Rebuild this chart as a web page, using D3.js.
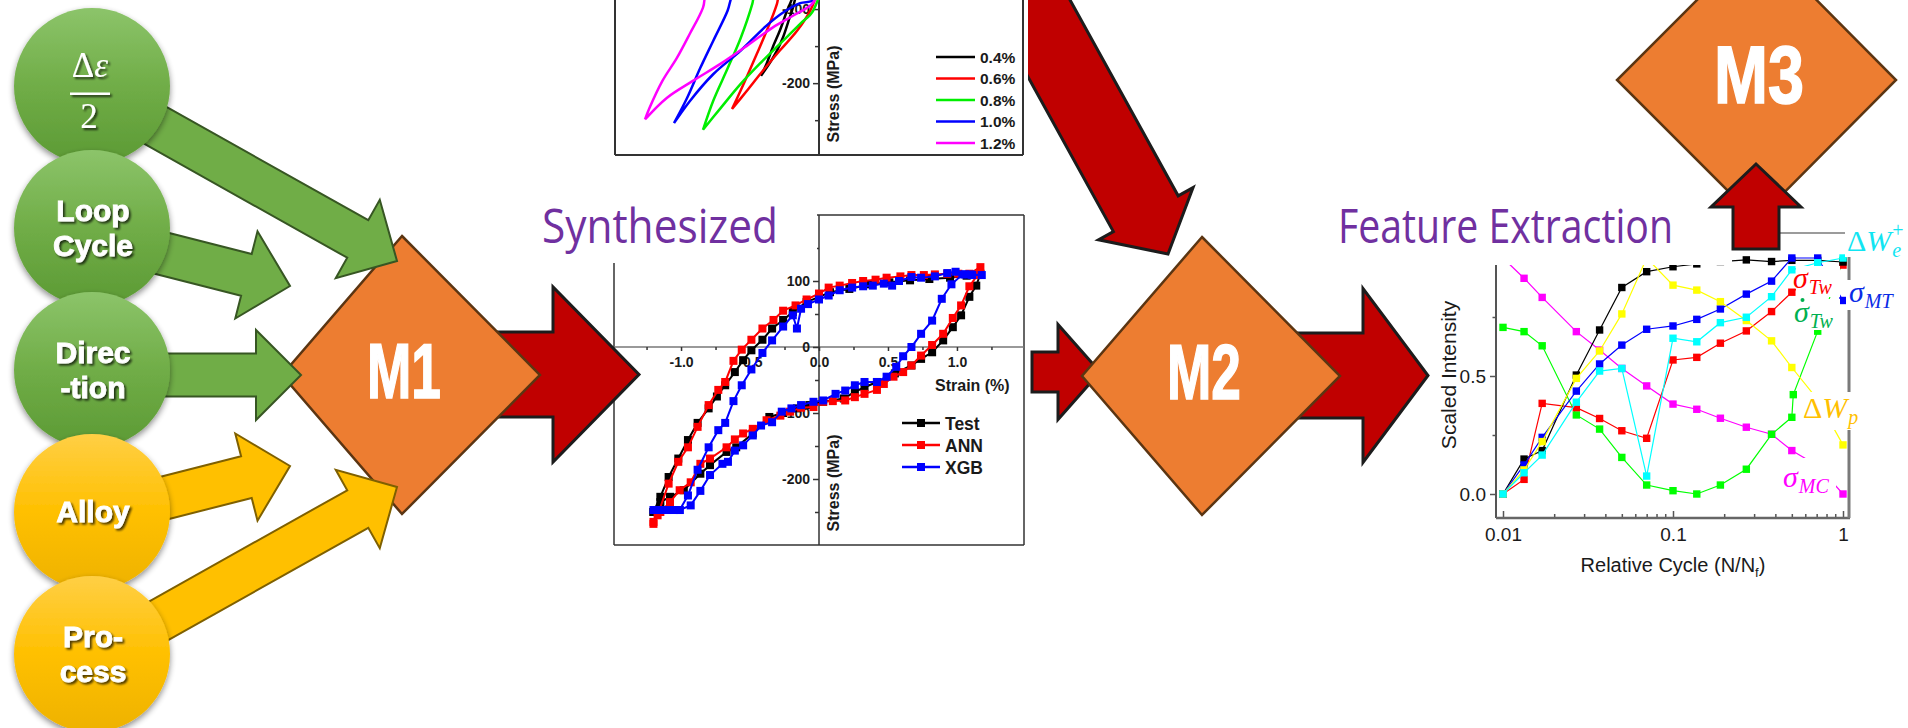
<!DOCTYPE html>
<html>
<head>
<meta charset="UTF-8">
<title>Fatigue loop pipeline</title>
<script src="https://cdn.jsdelivr.net/npm/d3@7"></script>
<style>
  body { margin: 0; background: #fff; }
  svg { display: block; }
</style>
</head>
<body>
<svg id="fig" width="1908" height="728"></svg>
<script>
  // ---------- data ----------
  // measured hysteresis loops, [strain %, stress MPa]
  const loopLevels = ['0.4%', '0.6%', '0.8%', '1.0%', '1.2%']
  const loop04 = [[-0.40,-190],[-0.36,-173],[-0.32,-152],[-0.27,-129],[-0.22,-102],[-0.19,-88],[-0.15,-60],
    [-0.14,-60],[-0.18,-98],[-0.21,-116],[-0.25,-139],[-0.29,-156],[-0.34,-173],[-0.40,-190]]
  const loop06 = [[-0.60,-235],[-0.52,-201],[-0.43,-161],[-0.36,-129],[-0.29,-93],[-0.25,-60],
    [0.0,-60],[-0.03,-88],[-0.06,-102],[-0.15,-129],[-0.27,-156],[-0.39,-184],[-0.50,-211],[-0.60,-235]]
  const loop08 = [[-0.80,-263],[-0.73,-224],[-0.63,-180],[-0.54,-139],[-0.46,-93],[-0.42,-60],
    [0.0,-60],[-0.04,-102],[-0.13,-120],[-0.27,-147],[-0.41,-174],[-0.54,-201],[-0.68,-234],[-0.80,-263]]
  const loop10 = [[-1.00,-254],[-0.91,-220],[-0.82,-180],[-0.73,-143],[-0.63,-102],[-0.61,-88],[-0.56,-60],
    [0.0,-60],[-0.04,-88],[-0.13,-92],[-0.25,-105],[-0.36,-122],[-0.54,-156],[-0.73,-188],[-0.89,-224],[-1.00,-254]]
  const loop12 = [[-1.20,-249],[-1.17,-234],[-1.08,-197],[-0.98,-166],[-0.89,-133],[-0.80,-98],[-0.75,-60],
    [0.0,-60],[-0.04,-91],[-0.18,-109],[-0.32,-125],[-0.50,-150],[-0.68,-174],[-0.87,-197],[-1.05,-220],[-1.20,-249]]

  // synthesized loop vs test, [strain %, stress MPa]
  const modelNames = ['Test', 'ANN', 'XGB']
  const testLoop = [[-1.20,-250],[-1.15,-227],[-1.09,-197],[-1.02,-169],[-0.95,-141],[-0.88,-115],[-0.80,-93],
    [-0.74,-75],[-0.68,-58],[-0.61,-38],[-0.55,-20],[-0.49,-5],[-0.41,11],[-0.34,28],[-0.26,41],[-0.19,53],
    [-0.09,68],[0.0,76],[0.08,83],[0.22,88],[0.37,95],[0.51,98],[0.66,101],[0.80,103],[0.95,105],[1.07,108],
    [1.17,111],[1.14,93],[1.09,76],[1.03,48],[0.97,30],[0.90,10],[0.82,-8],[0.74,-18],[0.67,-28],[0.55,-40],
    [0.42,-53],[0.33,-61],[0.26,-68],[0.18,-78],[0.03,-83],[-0.07,-88],[-0.16,-93],[-0.26,-100],[-0.36,-106],
    [-0.48,-131],[-0.60,-152],[-0.67,-159],[-0.79,-179],[-0.86,-192],[-0.98,-217],[-1.08,-227],[-1.15,-235],[-1.20,-250]]
  const annLoop = [[-1.20,-268],[-1.17,-255],[-1.09,-207],[-1.02,-174],[-0.95,-152],[-0.88,-121],[-0.80,-88],
    [-0.73,-65],[-0.68,-53],[-0.62,-21],[-0.56,-4],[-0.49,11],[-0.41,28],[-0.33,41],[-0.26,55],[-0.17,63],
    [-0.09,72],[0.0,81],[0.07,90],[0.15,93],[0.24,97],[0.32,100],[0.41,102],[0.49,105],[0.59,107],[0.67,109],
    [0.76,109],[0.84,110],[0.93,111],[1.01,111],[1.09,111],[1.17,121],[1.15,109],[1.09,92],[1.03,63],[0.97,44],
    [0.90,20],[0.82,3],[0.74,-13],[0.67,-28],[0.61,-38],[0.54,-45],[0.47,-56],[0.42,-65],[0.33,-71],[0.26,-76],
    [0.19,-81],[0.10,-82],[0.03,-83],[-0.04,-91],[-0.13,-92],[-0.21,-98],[-0.28,-104],[-0.38,-111],[-0.48,-124],
    [-0.55,-131],[-0.61,-140],[-0.67,-152],[-0.79,-169],[-0.86,-177],[-0.93,-205],[-1.01,-217],[-1.08,-235],
    [-1.15,-250],[-1.20,-265]]
  const xgbLoop = [[-1.20,-247],[-1.15,-247],[-1.10,-247],[-1.05,-247],[-1.01,-247],[-0.95,-225],[-0.88,-186],
    [-0.80,-152],[-0.73,-126],[-0.68,-115],[-0.62,-82],[-0.56,-58],[-0.49,-34],[-0.41,-9],[-0.34,10],[-0.26,31],
    [-0.19,48],[-0.16,28],[-0.13,58],[-0.08,65],[0.0,72],[0.07,78],[0.15,86],[0.24,90],[0.32,92],[0.39,93],
    [0.47,96],[0.53,93],[0.58,100],[0.67,106],[0.74,105],[0.84,107],[0.93,112],[0.99,114],[1.06,110],[1.11,109],
    [1.18,109],[1.10,110],[1.04,110],[0.96,95],[0.89,73],[0.82,40],[0.74,20],[0.67,0],[0.61,-14],[0.56,-30],
    [0.49,-45],[0.42,-53],[0.33,-53],[0.26,-58],[0.19,-66],[0.12,-71],[0.03,-81],[-0.04,-83],[-0.13,-88],
    [-0.20,-93],[-0.27,-98],[-0.34,-114],[-0.42,-119],[-0.48,-134],[-0.55,-149],[-0.61,-157],[-0.66,-174],
    [-0.70,-177],[-0.79,-194],[-0.86,-218],[-0.93,-240],[-1.01,-247]]

  // extracted features vs relative cycle N/Nf
  const relCycle = [0.01, 0.0133, 0.017, 0.027, 0.037, 0.05, 0.07, 0.1, 0.138, 0.19, 0.27, 0.38, 0.5, 0.71, 1.0]
  const relCycleGreen = [0.01, 0.0133, 0.017, 0.027, 0.037, 0.05, 0.07, 0.1, 0.138, 0.19, 0.27, 0.38, 0.5, 0.51, 0.71, 1.0]
  const featBlack = [0, 0.148, 0.184, 0.504, 0.695, 0.875, 0.942, 0.963, 0.975, 0.985, 0.992, 0.985, 0.99, 0.99, 0.983]
  const sigmaTw = [0, 0.062, 0.384, 0.366, 0.32, 0.268, 0.236, 0.568, 0.579, 0.639, 0.691, 0.773, 0.855, 0.93, 0.97]
  const sigmaMT = [0, 0.123, 0.24, 0.436, 0.551, 0.631, 0.698, 0.712, 0.74, 0.784, 0.847, 0.902, 1.0, 1.0, 0.82]
  const deltaWe = [0, 0.09, 0.165, 0.389, 0.521, 0.532, 0.076, 0.66, 0.645, 0.726, 0.749, 0.836, 0.95, 0.98, 1.0]
  const deltaWp = [0, 0.102, 0.222, 0.49, 0.606, 0.763, 1.0, 0.885, 0.864, 0.815, 0.735, 0.649, 0.536, 0.4, 0.208]
  const sigmaMC = [1.0, 0.914, 0.833, 0.688, 0.61, 0.532, 0.458, 0.381, 0.359, 0.321, 0.283, 0.253, 0.184, 0.12, 0.0]
  const sigmaDotTw = [0.706, 0.688, 0.628, 0.335, 0.275, 0.155, 0.038, 0.014, 0.0, 0.038, 0.105, 0.253, 0.325, 0.421, 0.69, 0.99]

  // input nodes and tick values
  const inputNames = [['Δε', '2'], ['Loop', 'Cycle'], ['Direc', '-tion'], ['Alloy'], ['Pro-', 'cess']]
  const stressTicks = [-200, -100, 0, 100]
  const stressMinor = [-250, -150, -50, 50, 150]
  const strainTicks = [-1, -0.5, 0, 0.5, 1]
  const strainMinor = [-1.25, -0.75, -0.25, 0.25, 0.75, 1.25]
  const intensityTicks = [0, 0.5]
  const cycleTicks = [0.01, 0.1, 1]

  // ---------- setup ----------
  const svg = d3.select('#fig')
  const defs = svg.append('defs')
  svg.append('rect').attr('width', 1908).attr('height', 728).attr('fill', '#fff')

  function vGrad(id, stops) {
    const g = defs.append('linearGradient').attr('id', id)
      .attr('x1', 0).attr('y1', 0).attr('x2', 0).attr('y2', 1)
    stops.forEach(([o, c]) => g.append('stop').attr('offset', o).attr('stop-color', c))
  }
  vGrad('gGreen', [[0, '#8cc46a'], [0.5, '#70ad47'], [1, '#5c9a34']])
  vGrad('gYellow', [[0, '#ffcf45'], [0.5, '#ffc000'], [1, '#eeb200']])

  const sh = defs.append('filter').attr('id', 'soft').attr('x', '-20%').attr('y', '-20%')
    .attr('width', '140%').attr('height', '150%')
  sh.append('feGaussianBlur').attr('in', 'SourceAlpha').attr('stdDeviation', 3)
  sh.append('feOffset').attr('dy', 3).attr('result', 'o')
  sh.append('feComponentTransfer').append('feFuncA').attr('type', 'linear').attr('slope', 0.45)
  const shm = sh.append('feMerge')
  shm.append('feMergeNode')
  shm.append('feMergeNode').attr('in', 'SourceGraphic')

  const ts = defs.append('filter').attr('id', 'txtShadow').attr('x', '-10%').attr('y', '-10%')
    .attr('width', '130%').attr('height', '140%')
  ts.append('feGaussianBlur').attr('in', 'SourceAlpha').attr('stdDeviation', 0.9)
  ts.append('feOffset').attr('dx', 1.6).attr('dy', 2)
  ts.append('feComponentTransfer').append('feFuncA').attr('type', 'linear').attr('slope', 0.7)
  const tsm = ts.append('feMerge')
  tsm.append('feMergeNode')
  tsm.append('feMergeNode').attr('in', 'SourceGraphic')

  // block arrow from tail to tip
  function blockArrow(tail, tip, shaftW, headW, headL, fill, stroke, sw) {
    const dx = tip[0] - tail[0], dy = tip[1] - tail[1], L = Math.hypot(dx, dy)
    const ux = dx / L, uy = dy / L, nx = -uy, ny = ux
    const bx = tip[0] - ux * headL, by = tip[1] - uy * headL
    const p = (x, y, k) => [x + nx * k, y + ny * k]
    const pts = [p(tail[0], tail[1], shaftW / 2), p(bx, by, shaftW / 2), p(bx, by, headW / 2), tip,
      p(bx, by, -headW / 2), p(bx, by, -shaftW / 2), p(tail[0], tail[1], -shaftW / 2)]
    svg.append('polygon').attr('points', pts.map(q => q.join(',')).join(' '))
      .attr('fill', fill).attr('stroke', stroke).attr('stroke-width', sw).attr('stroke-linejoin', 'miter')
  }
  function fromAngle(tip, deg, len) {
    const a = deg * Math.PI / 180
    return [tip[0] - Math.cos(a) * len, tip[1] - Math.sin(a) * len]
  }
  function diamond(cx, cy, l, r, t, b, label, fs, tw) {
    svg.append('polygon')
      .attr('points', [[cx, cy - t], [cx + r, cy], [cx, cy + b], [cx - l, cy]].map(q => q.join(',')).join(' '))
      .attr('fill', '#ed7d31').attr('stroke', '#5b3512').attr('stroke-width', 2.5)
    svg.append('text').attr('x', cx + 2).attr('y', cy + 23).attr('text-anchor', 'middle')
      .attr('font-family', 'Liberation Sans, Arial, sans-serif').attr('font-weight', 'bold')
      .attr('font-size', fs).attr('fill', '#fff').attr('stroke', '#fff').attr('stroke-width', 1.5)
      .attr('textLength', tw).attr('lengthAdjust', 'spacingAndGlyphs').text(label)
  }
  const RED = '#c00000', RED_EDGE = '#1c1c1c'

  // ---------- diagonal arrow from measured loops to M2 (behind top chart) ----------
  blockArrow(fromAngle([1168, 254], 61.1, 430), [1168, 254], 74, 108, 46, RED, RED_EDGE, 3)

  // ---------- top chart: measured loops ----------
  const xT = d3.scaleLinear().domain([-1.407, 1.407]).range([615, 1023])
  const yT = d3.scaleLinear().domain([-297, 0]).range([155, -65])
  const topG = svg.append('g')
  topG.append('rect').attr('x', 560).attr('y', 0).attr('width', 468).attr('height', 160).attr('fill', '#fff')
  const frameT = [[615, 0, 615, 155], [615, 155, 1023, 155], [1023, 0, 1023, 155], [819, 0, 819, 155]]
  frameT.forEach(([a, b, c, d]) => topG.append('line').attr('x1', a).attr('y1', b).attr('x2', c).attr('y2', d)
    .attr('stroke', '#333').attr('stroke-width', 2))
  const boldTick = sel => sel.call(g => g.select('.domain').remove())
    .call(g => g.selectAll('text').attr('font-family', 'Liberation Sans, Arial, sans-serif')
      .attr('font-weight', 'bold').attr('font-size', 14).attr('fill', '#1a1a1a'))
    .call(g => g.selectAll('line').attr('stroke', '#333').attr('stroke-width', 1.5))
  topG.append('g').attr('transform', 'translate(819,0)')
    .call(d3.axisLeft(yT).tickValues([-200, -100]).tickSize(6).tickPadding(3).tickFormat(d => String(d)))
    .call(boldTick)
  topG.append('g').attr('transform', 'translate(819,0)')
    .call(d3.axisLeft(yT).tickValues([-250, -150]).tickSize(4).tickFormat(''))
    .call(boldTick)
  topG.append('text').attr('transform', 'translate(839,94) rotate(-90)').attr('text-anchor', 'middle')
    .attr('font-family', 'Liberation Sans, Arial, sans-serif').attr('font-weight', 'bold').attr('font-size', 16)
    .attr('fill', '#1a1a1a').text('Stress (MPa)')

  const loopColors = ['#000000', '#ff0000', '#00ee00', '#0000ff', '#ff00ff']
  const lineT = d3.line().x(d => xT(d[0])).y(d => yT(d[1])).curve(d3.curveCatmullRom.alpha(0.5))
  ;[loop04, loop06, loop08, loop10, loop12].forEach((lp, i) => {
    topG.append('path').attr('d', lineT(lp)).attr('fill', 'none')
      .attr('stroke', loopColors[i]).attr('stroke-width', 2.5)
  })
  loopLevels.forEach((lab, i) => {
    const y = 57 + i * 21.5
    topG.append('line').attr('x1', 936).attr('x2', 975).attr('y1', y).attr('y2', y)
      .attr('stroke', loopColors[i]).attr('stroke-width', 2.5)
    topG.append('text').attr('x', 980).attr('y', y + 5.5)
      .attr('font-family', 'Liberation Sans, Arial, sans-serif').attr('font-weight', 'bold')
      .attr('font-size', 15.5).attr('fill', '#1a1a1a').text(lab)
  })

  // ---------- synthesized chart ----------
  const xS = d3.scaleLinear().domain([-1.486, 1.486]).range([614, 1024])
  const yS = d3.scaleLinear().domain([-300, 200]).range([545, 215])
  const syn = svg.append('g')
  const frameS = [[614, 215, 614, 545], [614, 545, 1024, 545], [1024, 215, 1024, 545], [614, 215, 1024, 215]]
  frameS.forEach(([a, b, c, d]) => syn.append('line').attr('x1', a).attr('y1', b).attr('x2', c).attr('y2', d)
    .attr('stroke', '#333').attr('stroke-width', 1.5))
  syn.append('line').attr('x1', 614).attr('x2', 1024).attr('y1', yS(0)).attr('y2', yS(0))
    .attr('stroke', '#777').attr('stroke-width', 1.5)
  syn.append('line').attr('x1', xS(0)).attr('x2', xS(0)).attr('y1', 215).attr('y2', 545)
    .attr('stroke', '#333').attr('stroke-width', 1.5)
  syn.append('g').attr('transform', `translate(${xS(0)},0)`)
    .call(d3.axisLeft(yS).tickValues(stressTicks).tickSize(6).tickPadding(3).tickFormat(d => String(d)))
    .call(boldTick)
  syn.append('g').attr('transform', `translate(${xS(0)},0)`)
    .call(d3.axisLeft(yS).tickValues(stressMinor).tickSize(4).tickFormat(''))
    .call(boldTick)
  syn.append('g').attr('transform', `translate(0,${yS(0)})`)
    .call(d3.axisBottom(xS).tickValues(strainTicks).tickSize(4).tickPadding(6).tickFormat(d => d.toFixed(1)))
    .call(boldTick)
  syn.append('g').attr('transform', `translate(0,${yS(0)})`)
    .call(d3.axisBottom(xS).tickValues(strainMinor).tickSize(3).tickFormat(''))
    .call(boldTick)
  syn.append('text').attr('x', 935).attr('y', 391)
    .attr('font-family', 'Liberation Sans, Arial, sans-serif').attr('font-weight', 'bold').attr('font-size', 16)
    .attr('fill', '#1a1a1a').text('Strain (%)')
  syn.append('text').attr('transform', 'translate(839,483) rotate(-90)').attr('text-anchor', 'middle')
    .attr('font-family', 'Liberation Sans, Arial, sans-serif').attr('font-weight', 'bold').attr('font-size', 16)
    .attr('fill', '#1a1a1a').text('Stress (MPa)')

  const modelColors = ['#000000', '#ff0000', '#0000ff']
  const lineS = d3.line().x(d => xS(d[0])).y(d => yS(d[1]))
  ;[testLoop, annLoop, xgbLoop].forEach((lp, i) => {
    syn.append('path').attr('d', lineS(lp)).attr('fill', 'none')
      .attr('stroke', modelColors[i]).attr('stroke-width', 2)
    syn.append('g').selectAll('rect').data(lp).join('rect')
      .attr('x', d => xS(d[0]) - 4).attr('y', d => yS(d[1]) - 4)
      .attr('width', 8).attr('height', 8).attr('fill', modelColors[i])
  })
  modelNames.forEach((lab, i) => {
    const y = 423 + i * 22
    syn.append('line').attr('x1', 902).attr('x2', 940).attr('y1', y).attr('y2', y)
      .attr('stroke', modelColors[i]).attr('stroke-width', 2.5)
    syn.append('rect').attr('x', 917).attr('y', y - 4).attr('width', 8).attr('height', 8).attr('fill', modelColors[i])
    syn.append('text').attr('x', 945).attr('y', y + 6.5)
      .attr('font-family', 'Liberation Sans, Arial, sans-serif').attr('font-weight', 'bold')
      .attr('font-size', 17.5).attr('fill', '#1a1a1a').text(lab)
  })
  syn.append('rect').attr('x', 530).attr('y', 180).attr('width', 287).attr('height', 83).attr('fill', '#fff')
  syn.append('text').attr('x', 542).attr('y', 243)
    .attr('font-family', 'Open Sans, Noto Sans, sans-serif').attr('font-size', 47).attr('fill', '#7030a0')
    .attr('textLength', 236).attr('lengthAdjust', 'spacingAndGlyphs').text('Synthesized')

  // ---------- M1 and its inputs ----------
  blockArrow([450, 374.5], [639, 374.5], 85, 175, 86, RED, RED_EDGE, 3)
  diamond(402, 375, 120, 138, 139, 139, 'M1', 77, 74)

  const inArrows = [
    { tip: [397, 261], ang: 29.3, fill: '#70ad47', edge: '#375623' },
    { tip: [290, 286], ang: 14.3, fill: '#70ad47', edge: '#375623' },
    { tip: [301, 375], ang: 0, fill: '#70ad47', edge: '#375623' },
    { tip: [290, 466], ang: -14.3, fill: '#ffc000', edge: '#7f6000' },
    { tip: [397, 487], ang: -29.3, fill: '#ffc000', edge: '#7f6000' }
  ]
  inArrows.forEach(a => blockArrow(fromAngle(a.tip, a.ang, a.tip[0] - 95), a.tip, 43, 90, 45, a.fill, a.edge, 2))

  const circleY = [86, 228, 370, 512, 654]
  const txt = { 'font-family': 'Liberation Sans, Arial, sans-serif', 'font-weight': 'bold', 'font-size': 30, fill: '#fff' }
  inputNames.forEach((lines, i) => {
    const cy = circleY[i]
    svg.append('circle').attr('cx', 92).attr('cy', cy).attr('r', 78)
      .attr('fill', i < 3 ? 'url(#gGreen)' : 'url(#gYellow)').attr('filter', 'url(#soft)')
    const g = svg.append('g').attr('filter', 'url(#txtShadow)')
    if (i === 0) {
      g.append('text').attr('x', 90).attr('y', 77).attr('text-anchor', 'middle')
        .attr('font-family', 'Liberation Serif, DejaVu Serif, serif').attr('font-size', 35).attr('fill', '#fff')
        .call(t => { t.append('tspan').text(lines[0][0]); t.append('tspan').attr('font-style', 'italic').text(lines[0][1]) })
      g.append('rect').attr('x', 70).attr('y', 92.5).attr('width', 40).attr('height', 2.5).attr('fill', '#fff')
      g.append('text').attr('x', 89).attr('y', 128).attr('text-anchor', 'middle')
        .attr('font-family', 'Liberation Serif, DejaVu Serif, serif').attr('font-size', 35).attr('fill', '#fff')
        .text(lines[1])
      return
    }
    const base = lines.length === 1 ? [cy + 10] : [cy - 7, cy + 28]
    lines.forEach((s, k) => {
      const t = g.append('text').attr('x', 93).attr('y', base[k]).attr('text-anchor', 'middle')
        .attr('stroke', '#fff').attr('stroke-width', 0.8).text(s)
      Object.entries(txt).forEach(([a, v]) => t.attr(a, v))
    })
  })

  // ---------- M2 ----------
  blockArrow([1032, 372], [1100, 372], 40, 95, 42, RED, RED_EDGE, 3)
  blockArrow([1250, 375.5], [1428, 375.5], 85, 174, 65, RED, RED_EDGE, 3)
  diamond(1202, 376, 120, 138, 139, 139, 'M2', 77, 74)

  // ---------- feature extraction chart ----------
  const xF = d3.scaleLog().domain([0.01, 1]).range([1503, 1843])
  const yF = d3.scaleLinear().domain([0, 1]).range([494, 258])
  const fx = svg.append('g')
  const regTick = sel => sel.call(g => g.select('.domain').remove())
    .call(g => g.selectAll('text').attr('font-family', 'Liberation Sans, Arial, sans-serif')
      .attr('font-size', 19).attr('fill', '#1a1a1a'))
    .call(g => g.selectAll('line').attr('stroke', '#555').attr('stroke-width', 1.5))
  fx.append('g').attr('transform', 'translate(1496,0)')
    .call(d3.axisLeft(yF).tickValues(intensityTicks).tickSize(6).tickPadding(4).tickFormat(d => d.toFixed(1)))
    .call(regTick)
  fx.append('g').attr('transform', 'translate(1496,0)')
    .call(d3.axisLeft(yF).tickValues([0.25, 0.75]).tickSize(3.5).tickFormat(''))
    .call(regTick)
  const minorCycles = d3.range(2, 10).map(k => k / 100).concat(d3.range(2, 10).map(k => k / 10))
  fx.append('g').attr('transform', 'translate(0,518)')
    .call(d3.axisBottom(xF).tickValues(cycleTicks).tickSize(-7).tickPadding(10).tickFormat(d => String(d)))
    .call(regTick)
  fx.append('g').attr('transform', 'translate(0,518)')
    .call(d3.axisBottom(xF).tickValues(minorCycles).tickSize(-4).tickFormat(''))
    .call(regTick)
  fx.append('line').attr('x1', 1496).attr('x2', 1496).attr('y1', 233).attr('y2', 518).attr('stroke', '#555').attr('stroke-width', 2)
  fx.append('line').attr('x1', 1496).attr('x2', 1850).attr('y1', 518).attr('y2', 518).attr('stroke', '#666').attr('stroke-width', 2.5)
  fx.append('line').attr('x1', 1849).attr('x2', 1849).attr('y1', 233).attr('y2', 518).attr('stroke', '#7a7a7a').attr('stroke-width', 3)
  fx.append('line').attr('x1', 1496).attr('x2', 1849).attr('y1', 233).attr('y2', 233).attr('stroke', '#7a7a7a').attr('stroke-width', 1.5)
  fx.append('text').attr('x', 1673).attr('y', 572).attr('text-anchor', 'middle')
    .attr('font-family', 'Liberation Sans, Arial, sans-serif').attr('font-size', 20).attr('fill', '#1a1a1a')
    .call(t => {
      t.append('tspan').text('Relative Cycle (N/N')
      t.append('tspan').attr('font-size', 13).attr('dy', 5).text('f')
      t.append('tspan').attr('dy', -5).text(')')
    })
  fx.append('text').attr('transform', 'translate(1456,375) rotate(-90)').attr('text-anchor', 'middle')
    .attr('font-family', 'Liberation Sans, Arial, sans-serif').attr('font-size', 21).attr('fill', '#1a1a1a')
    .text('Scaled Intensity')

  const featSeries = [
    { x: relCycle, y: sigmaMC, c: '#ff00ff' },
    { x: relCycleGreen, y: sigmaDotTw, c: '#00ff00' },
    { x: relCycle, y: sigmaTw, c: '#ff0000' },
    { x: relCycle, y: featBlack, c: '#000000' },
    { x: relCycle, y: sigmaMT, c: '#0000ff' },
    { x: relCycle, y: deltaWp, c: '#ffff00' },
    { x: relCycle, y: deltaWe, c: '#00ffff' }
  ]
  const lineF = d3.line().x(d => xF(d[0])).y(d => yF(d[1]))
  featSeries.forEach(s => {
    const pts = s.x.map((v, i) => [v, s.y[i]])
    fx.append('path').attr('d', lineF(pts)).attr('fill', 'none').attr('stroke', s.c).attr('stroke-width', 1.2)
    fx.append('g').selectAll('rect').data(pts).join('rect')
      .attr('x', d => xF(d[0]) - 3.7).attr('y', d => yF(d[1]) - 3.7)
      .attr('width', 7.4).attr('height', 7.4).attr('fill', s.c)
  })

  fx.append('rect').attr('x', 1330).attr('y', 195).attr('width', 402).attr('height', 70).attr('fill', '#fff')
  fx.append('text').attr('x', 1338).attr('y', 243)
    .attr('font-family', 'Open Sans, Noto Sans, sans-serif').attr('font-size', 47).attr('fill', '#7030a0')
    .attr('textLength', 335).attr('lengthAdjust', 'spacingAndGlyphs').text('Feature Extraction')

  // series labels with white boxes
  const serif = 'Liberation Serif, DejaVu Serif, serif'
  function mathLabel(box, x, y, color, main, sub, sup, dot) {
    fx.append('rect').attr('x', box[0]).attr('y', box[1]).attr('width', box[2]).attr('height', box[3]).attr('fill', '#fff')
    const t = fx.append('text').attr('x', x).attr('y', y).attr('font-family', serif)
      .attr('font-size', 30).attr('fill', color).attr('font-style', 'italic')
    main.forEach(([s, it]) => t.append('tspan').attr('font-style', it ? 'italic' : 'normal').text(s))
    const w = t.node().getComputedTextLength()
    if (sub) fx.append('text').attr('x', x + w + 1).attr('y', y + 6).attr('font-family', serif)
      .attr('font-size', 20).attr('font-style', 'italic').attr('fill', color).text(sub)
    if (sup) fx.append('text').attr('x', x + w + 1).attr('y', y - 14).attr('font-family', serif)
      .attr('font-size', 20).attr('fill', color).text(sup)
    if (dot) fx.append('circle').attr('cx', x + 8.5).attr('cy', y - 22).attr('r', 2).attr('fill', color)
  }
  mathLabel([1845, 224, 63, 33], 1847, 251, '#11e5f2', [['Δ', false], ['W', true]], 'e', '+')
  mathLabel([1796, 266, 44, 31], 1793, 288, '#ff0000', [['σ', true]], 'Tw')
  mathLabel([1846, 280, 52, 30], 1849, 302, '#0a2be6', [['σ', true]], 'MT')
  mathLabel([1796, 299, 44, 31], 1794, 322, '#00b050', [['σ', true]], 'Tw', null, true)
  mathLabel([1800, 392, 54, 38], 1803, 418, '#ffc000', [['Δ', false], ['W', true]], 'p')
  mathLabel([1780, 458, 56, 42], 1783, 487, '#ff00ff', [['σ', true]], 'MC')

  // ---------- M3 ----------
  diamond(1757, 80, 140, 139, 140, 140, 'M3', 81, 90)
  blockArrow([1756, 249], [1756, 164], 46, 90, 43, RED, RED_EDGE, 3)
</script>
</body>
</html>
